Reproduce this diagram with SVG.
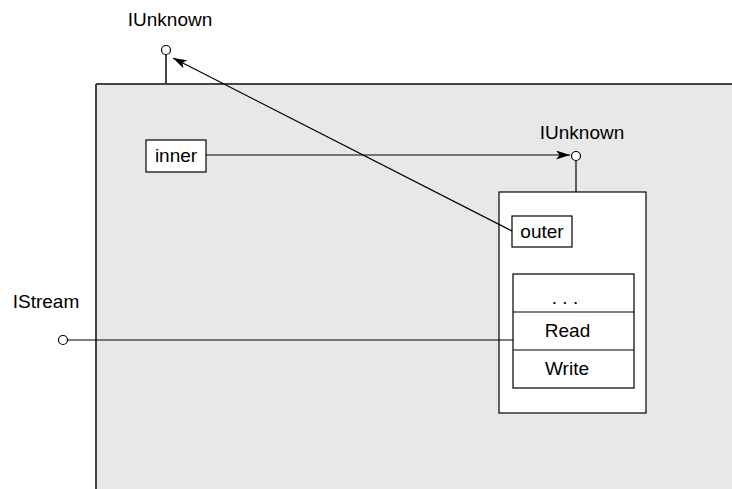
<svg xmlns="http://www.w3.org/2000/svg" width="732" height="489" viewBox="0 0 732 489">
<style>
text{font-family:"Liberation Sans",Arial,sans-serif;font-size:19px;fill:#000}
.box{fill:#fff;stroke:#000;stroke-width:1.2}
.ln{stroke:#000;stroke-width:1.2;fill:none}
.stub{stroke:#444;stroke-width:2;fill:none}
.port{fill:#fff;stroke:#000;stroke-width:1.2}
</style>
<defs>
<marker id="ah" viewBox="0 0 14 9" refX="14" refY="4.5" markerWidth="14" markerHeight="9" markerUnits="userSpaceOnUse" orient="auto">
<path d="M0,0 L14,4.5 L0,9 L3.5,4.5 Z" fill="#000"/>
</marker>
</defs>
<g id="container">
<rect x="96" y="84" width="640" height="410" fill="#e8e8e8"/>
<line class="stub" x1="96" y1="84" x2="732" y2="84"/>
<line class="stub" x1="96" y1="84" x2="96" y2="489"/>
</g>
<g id="port-outer-iunknown">
<line class="stub" x1="166" y1="55" x2="166" y2="84"/>
<circle class="port" cx="166" cy="50" r="4.5"/>
<text x="170" y="26" text-anchor="middle">IUnknown</text>
</g>
<g id="port-istream">
<circle class="port" cx="63" cy="340" r="4.5"/>
<text x="46" y="308" text-anchor="middle">IStream</text>
</g>
<g id="inner">
<rect class="box" x="146" y="140" width="60" height="32"/>
<text x="176" y="162" text-anchor="middle">inner</text>
</g>
<g id="component">
<rect class="box" x="499" y="192" width="147" height="221"/>
<line class="ln" x1="576" y1="161" x2="576" y2="192"/>
<circle class="port" cx="576" cy="156" r="4.5"/>
<text x="582" y="139" text-anchor="middle">IUnknown</text>
</g>
<g id="outer">
<rect class="box" x="512" y="216" width="60" height="31"/>
<text x="542" y="238" text-anchor="middle">outer</text>
</g>
<g id="vtable">
<rect class="box" x="513" y="274" width="121" height="114"/>
<line class="ln" x1="513" y1="312" x2="634" y2="312"/>
<line class="ln" x1="513" y1="350" x2="634" y2="350"/>
<text x="565" y="304" text-anchor="middle">. . .</text>
<text x="567.5" y="337" text-anchor="middle">Read</text>
<text x="567" y="375" text-anchor="middle">Write</text>
</g>
<g id="connectors">
<line class="ln" x1="206" y1="155" x2="570" y2="155" marker-end="url(#ah)"/>
<line class="ln" x1="512" y1="231" x2="173" y2="58" marker-end="url(#ah)"/>
<line class="ln" x1="67.5" y1="340" x2="513" y2="340"/>
</g>
</svg>
